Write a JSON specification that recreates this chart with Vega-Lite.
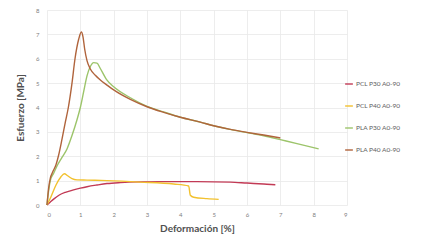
{
  "$schema": "https://vega.github.io/schema/vega-lite/v6.json",
  "width": 300,
  "height": 195,
  "autosize": {"type": "none"},
  "padding": {"left": 47, "top": 10, "right": 88, "bottom": 37},
  "background": "white",
  "config": {
    "font": "Lato",
    "view": {"stroke": null},
    "axis": {
      "grid": true,
      "gridColor": "#e8e8e8",
      "gridWidth": 0.8,
      "domain": false,
      "ticks": false,
      "labelFontSize": 6,
      "labelColor": "#808080",
      "titleFontSize": 10,
      "titleFontWeight": "bold",
      "titleColor": "#505050",
      "titleFont": "Lato"
    }
  },
  "data": {
    "values": [
      {"s": "PCL P30 A0-90", "x": 0, "y": 0},
      {"s": "PCL P30 A0-90", "x": 0.1, "y": 0.12},
      {"s": "PCL P30 A0-90", "x": 0.2, "y": 0.24},
      {"s": "PCL P30 A0-90", "x": 0.37, "y": 0.41},
      {"s": "PCL P30 A0-90", "x": 0.55, "y": 0.52},
      {"s": "PCL P30 A0-90", "x": 0.77, "y": 0.61},
      {"s": "PCL P30 A0-90", "x": 1.0, "y": 0.69},
      {"s": "PCL P30 A0-90", "x": 1.2, "y": 0.75},
      {"s": "PCL P30 A0-90", "x": 1.5, "y": 0.82},
      {"s": "PCL P30 A0-90", "x": 1.8, "y": 0.88},
      {"s": "PCL P30 A0-90", "x": 2.2, "y": 0.92},
      {"s": "PCL P30 A0-90", "x": 2.8, "y": 0.95},
      {"s": "PCL P30 A0-90", "x": 3.5, "y": 0.96},
      {"s": "PCL P30 A0-90", "x": 4.5, "y": 0.96},
      {"s": "PCL P30 A0-90", "x": 5.5, "y": 0.94},
      {"s": "PCL P30 A0-90", "x": 6.0, "y": 0.9},
      {"s": "PCL P30 A0-90", "x": 6.5, "y": 0.86},
      {"s": "PCL P30 A0-90", "x": 6.85, "y": 0.83},

      {"s": "PCL P40 A0-90", "x": 0, "y": 0},
      {"s": "PCL P40 A0-90", "x": 0.12, "y": 0.34},
      {"s": "PCL P40 A0-90", "x": 0.27, "y": 0.82},
      {"s": "PCL P40 A0-90", "x": 0.42, "y": 1.16},
      {"s": "PCL P40 A0-90", "x": 0.52, "y": 1.28},
      {"s": "PCL P40 A0-90", "x": 0.62, "y": 1.2},
      {"s": "PCL P40 A0-90", "x": 0.75, "y": 1.08},
      {"s": "PCL P40 A0-90", "x": 0.9, "y": 1.03},
      {"s": "PCL P40 A0-90", "x": 1.2, "y": 1.02},
      {"s": "PCL P40 A0-90", "x": 1.8, "y": 1.0},
      {"s": "PCL P40 A0-90", "x": 2.8, "y": 0.94},
      {"s": "PCL P40 A0-90", "x": 3.8, "y": 0.86},
      {"s": "PCL P40 A0-90", "x": 4.25, "y": 0.78},
      {"s": "PCL P40 A0-90", "x": 4.3, "y": 0.4},
      {"s": "PCL P40 A0-90", "x": 4.4, "y": 0.32},
      {"s": "PCL P40 A0-90", "x": 4.8, "y": 0.26},
      {"s": "PCL P40 A0-90", "x": 5.15, "y": 0.23},

      {"s": "PLA P30 A0-90", "x": 0, "y": 0},
      {"s": "PLA P30 A0-90", "x": 0.05, "y": 0.6},
      {"s": "PLA P30 A0-90", "x": 0.1, "y": 1.0},
      {"s": "PLA P30 A0-90", "x": 0.2, "y": 1.3},
      {"s": "PLA P30 A0-90", "x": 0.3, "y": 1.6},
      {"s": "PLA P30 A0-90", "x": 0.45, "y": 1.95},
      {"s": "PLA P30 A0-90", "x": 0.6, "y": 2.3},
      {"s": "PLA P30 A0-90", "x": 0.75, "y": 2.85},
      {"s": "PLA P30 A0-90", "x": 0.9, "y": 3.5},
      {"s": "PLA P30 A0-90", "x": 1.0, "y": 4.0},
      {"s": "PLA P30 A0-90", "x": 1.1, "y": 4.65},
      {"s": "PLA P30 A0-90", "x": 1.2, "y": 5.3},
      {"s": "PLA P30 A0-90", "x": 1.3, "y": 5.68},
      {"s": "PLA P30 A0-90", "x": 1.4, "y": 5.84},
      {"s": "PLA P30 A0-90", "x": 1.5, "y": 5.82},
      {"s": "PLA P30 A0-90", "x": 1.6, "y": 5.6},
      {"s": "PLA P30 A0-90", "x": 1.8, "y": 5.12},
      {"s": "PLA P30 A0-90", "x": 2.0, "y": 4.85},
      {"s": "PLA P30 A0-90", "x": 2.5, "y": 4.4},
      {"s": "PLA P30 A0-90", "x": 3.0, "y": 4.05},
      {"s": "PLA P30 A0-90", "x": 3.5, "y": 3.82},
      {"s": "PLA P30 A0-90", "x": 4.0, "y": 3.6},
      {"s": "PLA P30 A0-90", "x": 4.6, "y": 3.4},
      {"s": "PLA P30 A0-90", "x": 5.0, "y": 3.25},
      {"s": "PLA P30 A0-90", "x": 5.5, "y": 3.1},
      {"s": "PLA P30 A0-90", "x": 6.0, "y": 2.97},
      {"s": "PLA P30 A0-90", "x": 6.5, "y": 2.84},
      {"s": "PLA P30 A0-90", "x": 7.0, "y": 2.68},
      {"s": "PLA P30 A0-90", "x": 7.5, "y": 2.52},
      {"s": "PLA P30 A0-90", "x": 8.15, "y": 2.3},

      {"s": "PLA P40 A0-90", "x": 0, "y": 0},
      {"s": "PLA P40 A0-90", "x": 0.05, "y": 0.7},
      {"s": "PLA P40 A0-90", "x": 0.1, "y": 1.1},
      {"s": "PLA P40 A0-90", "x": 0.17, "y": 1.35},
      {"s": "PLA P40 A0-90", "x": 0.27, "y": 1.65},
      {"s": "PLA P40 A0-90", "x": 0.35, "y": 2.05},
      {"s": "PLA P40 A0-90", "x": 0.45, "y": 2.7},
      {"s": "PLA P40 A0-90", "x": 0.55, "y": 3.4},
      {"s": "PLA P40 A0-90", "x": 0.64, "y": 4.0},
      {"s": "PLA P40 A0-90", "x": 0.75, "y": 5.0},
      {"s": "PLA P40 A0-90", "x": 0.84, "y": 6.0},
      {"s": "PLA P40 A0-90", "x": 0.95, "y": 6.8},
      {"s": "PLA P40 A0-90", "x": 1.03, "y": 7.1},
      {"s": "PLA P40 A0-90", "x": 1.08, "y": 6.9},
      {"s": "PLA P40 A0-90", "x": 1.13, "y": 6.4},
      {"s": "PLA P40 A0-90", "x": 1.2, "y": 5.92},
      {"s": "PLA P40 A0-90", "x": 1.3, "y": 5.58},
      {"s": "PLA P40 A0-90", "x": 1.45, "y": 5.32},
      {"s": "PLA P40 A0-90", "x": 1.6, "y": 5.13},
      {"s": "PLA P40 A0-90", "x": 1.8, "y": 4.92},
      {"s": "PLA P40 A0-90", "x": 2.0, "y": 4.72},
      {"s": "PLA P40 A0-90", "x": 2.5, "y": 4.33},
      {"s": "PLA P40 A0-90", "x": 3.0, "y": 4.03},
      {"s": "PLA P40 A0-90", "x": 3.5, "y": 3.8},
      {"s": "PLA P40 A0-90", "x": 4.0, "y": 3.6},
      {"s": "PLA P40 A0-90", "x": 4.6, "y": 3.4},
      {"s": "PLA P40 A0-90", "x": 5.0, "y": 3.25},
      {"s": "PLA P40 A0-90", "x": 5.5, "y": 3.1},
      {"s": "PLA P40 A0-90", "x": 6.0, "y": 2.98},
      {"s": "PLA P40 A0-90", "x": 6.5, "y": 2.87},
      {"s": "PLA P40 A0-90", "x": 7.0, "y": 2.75}
    ]
  },
  "mark": {"type": "line", "strokeWidth": 1.4, "interpolate": "monotone"},
  "encoding": {
    "x": {
      "field": "x", "type": "quantitative",
      "scale": {"domain": [0, 9], "nice": false},
      "axis": {"values": [0,1,2,3,4,5,6,7,8,9], "title": "Deformación [%]", "labelPadding": 6, "titlePadding": 6}
    },
    "y": {
      "field": "y", "type": "quantitative",
      "scale": {"domain": [0, 8], "nice": false},
      "axis": {"values": [0,1,2,3,4,5,6,7,8], "title": "Esfuerzo [MPa]", "labelPadding": 8, "titlePadding": 10}
    },
    "color": {
      "field": "s", "type": "nominal",
      "scale": {
        "domain": ["PCL P30 A0-90", "PCL P40 A0-90", "PLA P30 A0-90", "PLA P40 A0-90"],
        "range": ["#c23a55", "#f2c12e", "#9cc46a", "#b0643c"]
      },
      "legend": {
        "title": null,
        "orient": "none",
        "legendX": 297,
        "legendY": 69,
        "symbolType": "stroke",
        "symbolSize": 60,
        "symbolStrokeWidth": 1.4,
        "labelFontSize": 6.5,
        "labelColor": "#606060",
        "rowPadding": 13,
        "labelOffset": 2
      }
    }
  }
}
